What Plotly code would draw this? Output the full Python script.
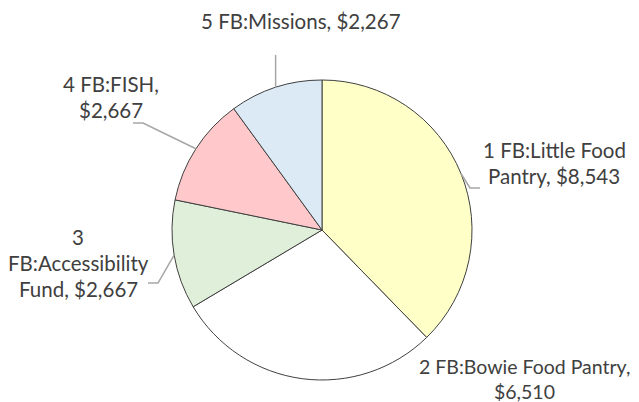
import math
import plotly.graph_objects as go

categories = ["1 FB:Little Food Pantry", "2 FB:Bowie Food Pantry", "3 FB:Accessibility Fund",
              "4 FB:FISH", "5 FB:Missions"]
values = [8543, 6510, 2667, 2667, 2267]
label_lines = [
    ["1 FB:Little Food", "Pantry, $8,543"],
    ["2 FB:Bowie Food Pantry,", "$6,510"],
    ["3", "FB:Accessibility", "Fund, $2,667"],
    ["4 FB:FISH,", "$2,667"],
    ["5 FB:Missions, $2,267"],
]
colors = ["#FFFFC8", "#FFFFFF", "#E0EFDA", "#FFC9CC", "#DCEAF6"]

OFF = 8  # page body margin
W, H = 639 - OFF, 402 - OFF
CX, CY, R = 322, 230, 150

def px(x):
    return (x - OFF) / W

def py(y):
    return 1 - (y - OFF) / H

fig = go.Figure(go.Pie(
    labels=categories, values=values, sort=False, direction="clockwise", rotation=0,
    marker=dict(colors=colors, line=dict(color="#404040", width=1)),
    textinfo="none", hoverinfo="label+value", showlegend=False,
    domain=dict(x=[px(CX - R), px(CX + R)], y=[py(CY + R), py(CY - R)]),
))

# label layout: (center x, first line center y, line spacing, font size)
label_pos = [(554, 150, 26, 20.5), (524, 366, 25, 19.5), (78, 237, 26, 20.5),
             (111, 84, 26, 20.5), (301, 21, 26, 20.5)]
# leader knee/end points (None = no leader)
leaders = [[(470, 188), (480, 188)], None, [(158, 283), (148, 283)],
           [(143, 123), (133, 123)], "vertical55"]

total = sum(values)
annotations = []
shapes = []
cum = 0
for i, v in enumerate(values):
    mid = (cum + v / 2) / total * 2 * math.pi
    cum += v
    ex = CX + R * math.sin(mid)
    ey = CY - R * math.cos(mid)
    lx, ly, sp, fs = label_pos[i]
    for j, line in enumerate(label_lines[i]):
        annotations.append(dict(
            x=px(lx), y=py(ly + j * sp), xref="paper", yref="paper",
            text=line, showarrow=False, xanchor="center", yanchor="middle",
            font=dict(family="Lato", size=fs, color="#404040"),
        ))
    ld = leaders[i]
    if ld is None:
        continue
    if ld == "vertical55":
        pts = [(ex, ey), (ex, 55)]
    else:
        pts = [(ex, ey)] + ld
    path = "M " + " L ".join(f"{px(a):.5f},{py(b):.5f}" for a, b in pts)
    shapes.append(dict(type="path", path=path, xref="paper", yref="paper",
                       line=dict(color="#A6A6A6", width=1.5)))

fig.update_layout(
    width=W, height=H, margin=dict(l=0, r=0, t=0, b=0),
    paper_bgcolor="white", plot_bgcolor="white",
    annotations=annotations, shapes=shapes,
)
fig.write_html("out.html")
